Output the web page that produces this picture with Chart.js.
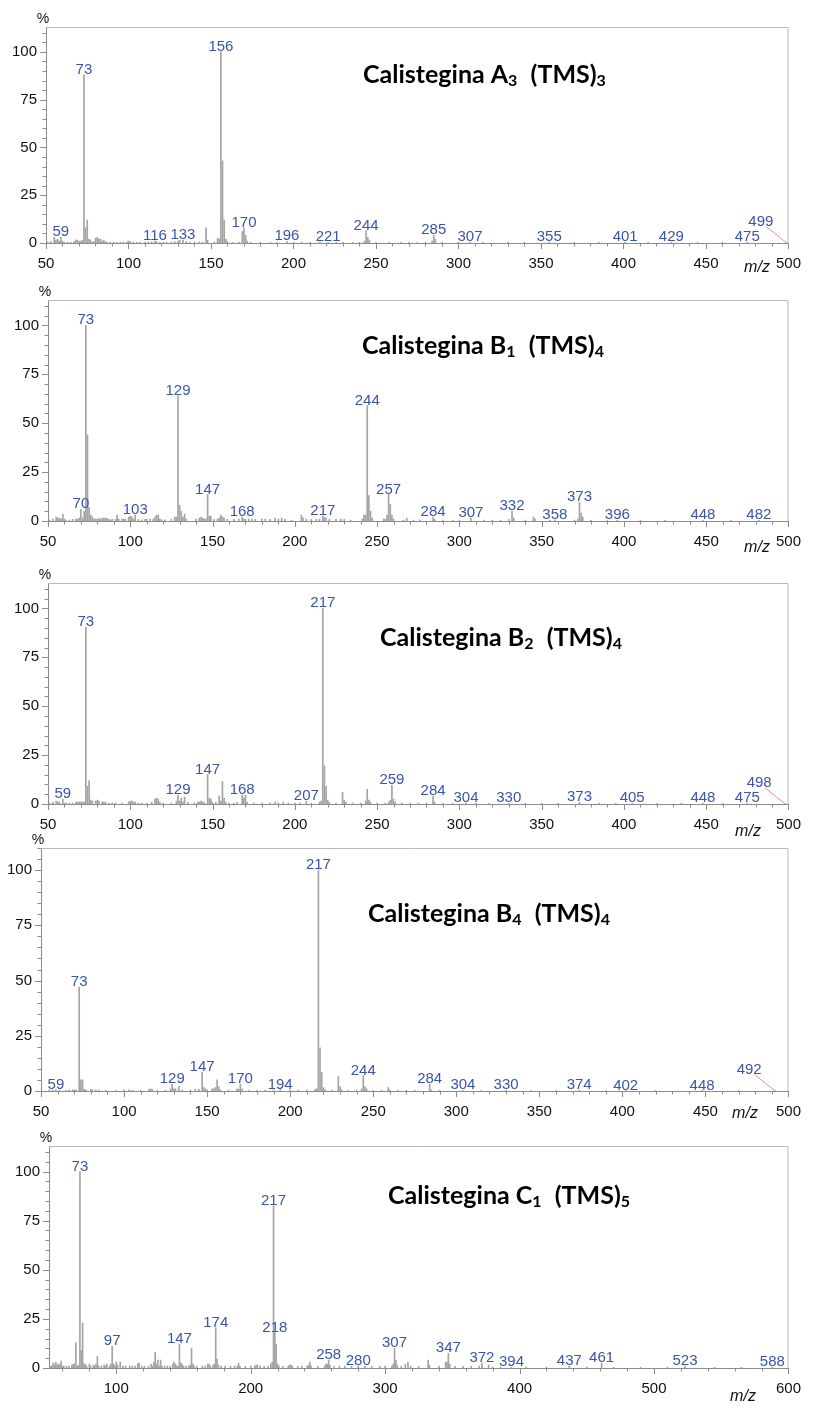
<!DOCTYPE html>
<html>
<head>
<meta charset="utf-8">
<script src="https://cdn.jsdelivr.net/npm/chart.js@4.4.1/dist/chart.umd.min.js"></script>
<style>
  html, body { margin: 0; padding: 0; background: #fff; overflow: hidden; }
  body { width: 813px; height: 1406px; position: relative; }
  canvas { position: absolute; left: 0; }
</style>
</head>
<body>
<canvas id="a3"></canvas>
<canvas id="b1"></canvas>
<canvas id="b2"></canvas>
<canvas id="b4"></canvas>
<canvas id="c1"></canvas>
<script>
//Calistegina A3 (TMS)3 -> m/z and relative intensity (%)
const a3Mz  = [51,53,55,56,57,58,59,60,61,63,65,67,68,69,70,71,72,73,74,75,76,77,78,79,80,81,82,83,84,85,86,87,89,91,93,95,97,99,100,101,103,105,107,110,112,114,116,117,119,121,123,126,128,130,131,133,135,137,140,143,145,147,148,152,154,155,156,157,158,159,160,163,167,169,170,171,172,174,180,186,190,196,200,205,210,216,221,226,230,236,240,243,244,245,246,250,258,265,270,275,280,284,285,286,290,300,307,315,330,340,355,370,385,401,415,429,445,460,475,499];
const a3Int = [0.5,0.8,3,1.5,2,1,3,1,0.5,0.5,0.5,0.8,1.5,1.5,1,1,1.5,88,8,12,2,1.5,0.5,0.8,2.5,3,2,2,1,1.5,0.8,0.5,0.5,0.5,0.4,0.5,0.5,0.6,1,0.8,0.5,0.4,0.4,0.5,0.5,0.6,1,0.8,0.4,0.4,0.4,0.5,0.8,1,1.5,1.5,0.8,0.4,0.5,0.6,0.5,8,1.5,0.5,2.5,2,100,43,12,2,0.8,0.4,0.5,6,8,4,1,0.4,0.4,0.3,0.4,0.8,0.3,0.3,0.3,0.3,0.3,0.3,0.3,0.3,0.3,1,6.5,3,1.5,0.3,0.4,0.3,0.3,0.3,0.3,1,4,2,0.3,0.3,0.3,0.3,0.3,0.3,0.3,0.3,0.3,0.3,0.3,0.3,0.3,0.3,0.3,0.3];
const a3Labels = [59,73,116,133,156,170,196,221,244,285,307,355,401,429,475,499];
const a3Leaders = [499];

//Calistegina B1 (TMS)4
const b1Mz  = [51,53,55,56,57,58,59,60,61,63,65,67,68,69,70,71,72,73,74,75,76,77,78,79,80,81,82,83,84,85,86,87,88,89,91,92,93,95,96,97,99,100,101,102,103,105,107,109,110,112,114,115,116,117,118,119,121,125,127,128,129,130,131,132,133,134,140,142,143,144,145,146,147,148,149,151,153,154,155,156,157,159,163,166,168,169,170,172,174,176,180,182,185,188,190,192,194,198,204,205,207,210,213,215,217,218,219,221,225,228,230,234,241,242,243,244,245,246,247,254,255,256,257,258,259,260,266,268,272,276,284,285,290,296,300,307,315,320,325,330,332,333,340,345,346,355,358,370,372,373,374,375,380,390,396,410,425,448,465,482];
const b1Int = [0.5,1,2,1.5,1.5,1,3.5,1,0.5,0.5,0.8,1,1,1.5,6,1.5,5,100,44,7,3,2,1,1,1,1.2,1,1.5,1.5,1.5,1.2,0.8,0.5,1,0.8,3,1,1,1,1,2,2.5,2,1,3,0.8,0.6,0.8,0.8,1,1,2,3,3,1,0.6,0.6,0.8,2,2,64,8,5,2,3.5,1,1,1.5,2,1.5,1,1,13.5,2.5,2.5,0.8,1,1.5,3,2,1.5,1,0.8,1,2,1,1,1,1,0.8,1,1,0.8,1.5,1,1.5,0.8,0.5,3,1.5,1,0.8,1,1,2.5,2,1.5,1,0.8,1,0.8,0.5,1,3,3,59,13,5,1.5,1,1,3,13.5,8.5,3,1,0.5,1.5,0.5,0.5,2,0.8,0.5,0.5,0.5,1.5,0.5,0.5,0.5,0.8,5,1.5,0.5,2,1,0.5,0.5,0.5,1,9.5,4,2,0.4,0.3,0.5,0.3,0.3,0.3,0.3,0.3];
const b1Labels = [70,73,103,129,147,168,217,244,257,284,307,332,358,373,396,448,482];
const b1Leaders = [];

//Calistegina B2 (TMS)4
const b2Mz  = [51,53,55,56,57,59,60,61,63,65,67,68,69,70,71,72,73,74,75,76,77,79,80,81,83,84,85,87,89,91,95,99,100,101,102,103,105,107,110,113,115,116,117,118,120,125,128,129,130,131,132,133,135,139,141,142,143,144,145,147,148,149,150,152,154,155,156,157,158,160,163,165,168,169,170,171,175,180,185,188,190,193,196,200,203,207,210,215,216,217,218,219,220,221,225,229,230,231,235,240,243,244,245,246,250,255,257,258,259,260,261,265,270,275,280,284,285,290,296,304,310,318,330,340,350,360,373,385,395,405,420,435,448,460,475,498];
const b2Int = [0.5,0.8,1.5,1,1,2.5,0.5,0.5,0.5,0.5,1,1,1,1,1,1,90.5,9,12,2,1.5,1.5,2,1.5,1,1,0.8,0.5,0.5,0.5,0.5,1,1.5,1.5,1,1,0.5,0.5,0.5,0.8,2.5,3,2.5,0.8,0.5,0.5,1.5,4.5,1.5,3,1,3.5,0.8,0.6,1,1,1.5,1,0.8,15,3,2.5,0.8,0.8,4,1.5,11.5,3,1,0.5,0.5,0.8,4.5,3,4.5,1,0.5,0.5,0.6,1,0.6,1,0.5,0.5,0.6,1.5,0.5,1,1.5,100,19.5,9,2,0.8,0.5,6,2,0.8,0.5,0.5,1.5,7.5,2,0.8,0.5,0.5,1,2,9.5,2.5,1,0.5,0.5,0.5,0.5,4,1,0.4,0.4,0.5,0.3,0.3,0.3,0.3,0.3,0.3,0.8,0.3,0.3,0.3,0.3,0.3,0.3,0.3,0.3,0.3];
const b2Labels = [59,73,129,147,168,207,217,259,284,304,330,373,405,448,475,498];
const b2Leaders = [498];

//Calistegina B4 (TMS)4
const b4Mz  = [55,57,59,61,65,67,69,70,71,73,74,75,76,77,80,81,83,85,89,95,100,103,105,110,115,116,117,120,125,128,129,130,131,133,135,140,143,145,147,148,149,150,153,154,155,156,157,158,163,168,169,170,171,175,180,185,190,194,200,205,210,215,216,217,218,219,220,221,225,229,230,231,235,240,243,244,245,246,250,255,259,260,265,270,275,284,285,290,304,315,330,345,360,374,390,402,420,448,470,492];
const b4Int = [0.5,0.5,0.6,0.3,0.3,0.5,0.5,0.5,0.5,47,5,5,0.8,0.5,0.8,0.5,0.5,0.4,0.3,0.3,0.5,0.5,0.3,0.3,0.8,1,0.8,0.3,0.3,1,3,1,1,2,0.5,0.4,0.8,0.8,8.5,1.5,1,0.5,1,1,1.5,5,2,0.5,0.4,1,0.8,3,1,0.3,0.3,0.4,0.4,0.6,0.3,0.4,0.4,0.8,1,100,19.5,8.5,1.5,0.6,0.4,6.5,2,0.6,0.3,0.4,1,7,2,1,0.3,0.3,1.5,0.5,0.3,0.3,0.3,3,0.5,0.3,0.3,0.2,0.3,0.2,0.2,0.3,0.2,0.2,0.2,0.2,0.2,0.2];
const b4Labels = [59,73,129,147,170,194,217,244,284,304,330,374,402,448,492];
const b4Leaders = [492];

//Calistegina C1 (TMS)5
const c1Mz  = [51,52,53,54,55,56,57,58,59,60,61,63,65,67,68,69,70,71,72,73,74,75,76,77,78,80,81,83,84,85,86,87,89,91,92,93,95,96,97,98,99,100,101,103,105,107,110,112,114,116,117,119,121,124,126,127,128,129,130,131,132,133,134,136,138,140,142,143,144,145,146,147,148,149,150,152,154,155,156,157,158,160,164,166,168,169,170,172,173,174,175,176,178,181,185,188,190,191,192,196,200,203,204,205,207,210,213,215,216,217,218,219,220,221,224,228,229,230,231,235,238,242,243,244,245,250,255,256,257,258,259,262,266,270,275,280,285,290,296,300,305,306,307,308,309,312,315,317,319,325,332,333,340,345,346,347,348,352,358,364,370,372,377,380,386,394,405,420,437,450,461,470,490,510,523,545,565,588];
const c1Int = [1,1,2.5,1.5,3,2,1.5,2,3.5,1,1,0.8,1,1.5,2,2,13,1,1.5,100,9,23,2,2,1,2,1,1.5,1,2,6,1,1,1.5,1,2,1,2,11,2,1,3,1.5,3,1,1,1,1,1,2,2.5,1,1,1,2,1,3,8,2,4,1,4,1,1,1,1,2,3,2,1,1,12,2.5,2,1,1,1,1.5,10,2,1,1,1,1,2,2,1,1.5,2,20.5,4.5,1.5,1,1,1,1,1,2.5,1,0.8,1,1,1.5,1.5,1,0.8,1,2,3,82.5,18,12,2,1,0.8,1,1.5,1.5,1,0.8,1,1,1.5,3,1,0.8,1,2,2,4,1.5,0.8,1,1,0.8,1,0.8,0.8,0.8,1,1,2,10,4,1.5,1,2,3,1,0.8,4,1.5,1,3,3,7.5,2,0.8,0.8,0.8,1,2.5,1.5,0.5,0.5,0.5,0.5,0.5,1,0.5,2.5,0.4,0.4,0.4,1,0.3,0.3,0.3];
const c1Labels = [73,97,147,174,217,218,258,280,307,347,372,394,437,461,523,588];
const c1Leaders = [];

//tick labels
const msTicks  = [50,100,150,200,250,300,350,400,450,500];
const c1Ticks  = [100,200,300,400,500,600];
const pctTicks = [0,25,50,75,100];

//titles -> [text, subscript?]
const a3Title = [['Calistegina A', false], ['3', true], ['  (TMS)', false], ['3', true]];
const b1Title = [['Calistegina B', false], ['1', true], ['  (TMS)', false], ['4', true]];
const b2Title = [['Calistegina B', false], ['2', true], ['  (TMS)', false], ['4', true]];
const b4Title = [['Calistegina B', false], ['4', true], ['  (TMS)', false], ['4', true]];
const c1Title = [['Calistegina C', false], ['1', true], ['  (TMS)', false], ['5', true]];

Chart.defaults.font.family = '"Liberation Sans", Arial, sans-serif';
Chart.defaults.font.size = 15;
Chart.defaults.color = '#111';

//draws one spectrum panel; p holds plot box in page pixels + axis setup
function makeSpectrum(id, mz, inten, labels, leaders, title, p) {
  const cv = document.getElementById(id);
  const padTop = 27;
  cv.width = 813;
  cv.height = (p.b - p.t) + padTop + 40;
  cv.style.top = (p.t - padTop) + 'px';

  const pts = mz.map((m, i) => ({x: m, y: inten[i]}));

  //frame, minor ticks, peak labels, title, axis names
  const deco = {
    id: 'deco_' + id,
    afterDatasetsDraw(chart) {
      const ctx = chart.ctx, a = chart.chartArea, xs = chart.scales.x, ys = chart.scales.y;
      ctx.save();
      //top + right border
      ctx.strokeStyle = '#b9b9b9';
      ctx.lineWidth = 1;
      ctx.beginPath();
      ctx.moveTo(a.left, a.top + 0.5);
      ctx.lineTo(a.right - 0.5, a.top + 0.5);
      ctx.lineTo(a.right - 0.5, a.bottom);
      ctx.stroke();

      //x ticks
      ctx.strokeStyle = '#8c8c8c';
      ctx.beginPath();
      for (let v = Math.ceil(xs.min / p.minor) * p.minor; v <= xs.max; v += p.minor) {
        const px = Math.round(xs.getPixelForValue(v)) + 0.5;
        const len = v % p.major === 0 ? 6 : 3.5;
        ctx.moveTo(px, a.bottom);
        ctx.lineTo(px, a.bottom + len);
      }
      //y ticks
      for (let v = 0; v <= ys.max; v += 5) {
        const py = Math.round(ys.getPixelForValue(v)) + 0.5;
        const len = v % 25 === 0 ? 6 : 3.5;
        ctx.moveTo(a.left, py);
        ctx.lineTo(a.left - len, py);
      }
      ctx.stroke();

      //peak labels
      ctx.font = '15px "Liberation Sans", Arial, sans-serif';
      ctx.fillStyle = '#3a55aa';
      ctx.textAlign = 'center';
      ctx.textBaseline = 'alphabetic';
      const base = ys.getPixelForValue(0);
      labels.forEach(m => {
        const i = mz.indexOf(m);
        const val = i >= 0 ? inten[i] : 0;
        const px = xs.getPixelForValue(m);
        if (leaders.includes(m)) {
          const lx = px - 26, ly = base - 17;
          ctx.fillText(String(m), lx, ly);
          ctx.strokeStyle = '#f08a8a';
          ctx.beginPath();
          ctx.moveTo(lx + 6, ly + 1);
          ctx.lineTo(px, base);
          ctx.stroke();
        } else {
          ctx.fillText(String(m), px, ys.getPixelForValue(val) - 1);
        }
      });

      //% and m/z
      ctx.fillStyle = '#111';
      ctx.font = '14px "Liberation Sans", Arial, sans-serif';
      ctx.textBaseline = 'middle';
      ctx.fillText('%', a.left - 3, a.top - 8);
      ctx.font = 'italic 16px "Liberation Sans", Arial, sans-serif';
      ctx.fillText('m/z', p.mzX, a.bottom + p.mzDy);

      //title with subscripts
      ctx.textAlign = 'left';
      ctx.textBaseline = 'alphabetic';
      let tx = p.titleX;
      const ty = a.top + p.titleDy;
      title.forEach(([txt, sub]) => {
        ctx.font = sub ? 'bold 16px Lato, sans-serif' : 'bold 25px Lato, sans-serif';
        ctx.fillStyle = '#000';
        ctx.fillText(txt, tx, sub ? ty + 3 : ty);
        tx += ctx.measureText(txt).width + (sub ? 1 : 0);
      });
      ctx.restore();
    }
  };

  new Chart(cv, {
    type: 'bar',
    data: {datasets: [{data: pts, backgroundColor: '#a4a4a4', barThickness: 1, grouped: false}]},
    options: {
      responsive: false,
      animation: false,
      devicePixelRatio: 1,
      layout: {padding: {top: padTop, right: 813 - p.r, bottom: 0, left: 0}},
      plugins: {legend: {display: false}, tooltip: {enabled: false}},
      scales: {
        x: {
          type: 'linear', min: p.xmin, max: p.xmax, offset: false,
          grid: {display: false, drawTicks: false},
          border: {color: '#8c8c8c'},
          ticks: {padding: 12, maxRotation: 0, autoSkip: false},
          afterBuildTicks: s => { s.ticks = p.xTicks.map(v => ({value: v})); },
          afterFit: s => { s.height = 40; }
        },
        y: {
          min: 0, max: p.ymax,
          grid: {display: false, drawTicks: false},
          border: {color: '#8c8c8c'},
          ticks: {padding: 9, autoSkip: false},
          afterBuildTicks: s => { s.ticks = pctTicks.map(v => ({value: v})); },
          afterFit: s => { s.width = p.l; }
        }
      }
    },
    plugins: [deco]
  });
}

makeSpectrum('a3', a3Mz, a3Int, a3Labels, a3Leaders, a3Title,
  {l: 46, r: 795, t: 27, b: 243, xmin: 50, xmax: 500, xTicks: msTicks, major: 50, minor: 10, ymax: 113, titleX: 363, titleDy: 56, mzX: 757, mzDy: 25});
makeSpectrum('b1', b1Mz, b1Int, b1Labels, b1Leaders, b1Title,
  {l: 48, r: 794, t: 300, b: 521, xmin: 50, xmax: 500, xTicks: msTicks, major: 50, minor: 10, ymax: 113, titleX: 362, titleDy: 54, mzX: 757, mzDy: 27});
makeSpectrum('b2', b2Mz, b2Int, b2Labels, b2Leaders, b2Title,
  {l: 48, r: 794, t: 583, b: 804, xmin: 50, xmax: 500, xTicks: msTicks, major: 50, minor: 10, ymax: 113, titleX: 380, titleDy: 63, mzX: 748, mzDy: 28});
makeSpectrum('b4', b4Mz, b4Int, b4Labels, b4Leaders, b4Title,
  {l: 41, r: 799, t: 848, b: 1091, xmin: 50, xmax: 500, xTicks: msTicks, major: 50, minor: 10, ymax: 110, titleX: 368, titleDy: 74, mzX: 745, mzDy: 23});
makeSpectrum('c1', c1Mz, c1Int, c1Labels, c1Leaders, c1Title,
  {l: 49, r: 796, t: 1146, b: 1368, xmin: 50, xmax: 600, xTicks: c1Ticks, major: 100, minor: 20, ymax: 113, titleX: 388, titleDy: 58, mzX: 743, mzDy: 29});
</script>
</body>
</html>
